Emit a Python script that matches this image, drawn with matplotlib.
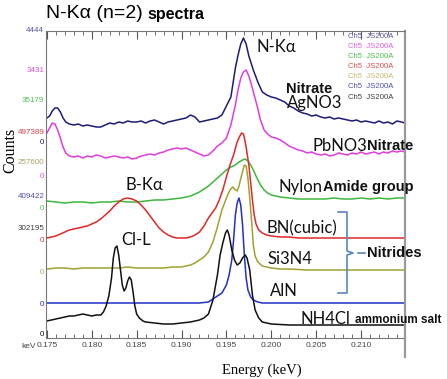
import numpy as np
import matplotlib
matplotlib.use('Agg')
from matplotlib import pyplot as plt

# spectra, counts above each trace's own zero (display units), energy in keV
agno3_e = [0.1750, 0.1753, 0.1756, 0.1759, 0.1762, 0.1765, 0.1768, 0.1771, 0.1775, 0.1780,
           0.1785, 0.1790, 0.1795, 0.1800, 0.1805, 0.1810, 0.1815, 0.1820, 0.1825, 0.1830,
           0.1835, 0.1840, 0.1845, 0.1850, 0.1855, 0.1860, 0.1865, 0.1870, 0.1875, 0.1880,
           0.1885, 0.1890, 0.1895, 0.1900, 0.1905, 0.1910, 0.1915, 0.1920, 0.1925, 0.1930,
           0.1935, 0.1940, 0.1945, 0.1950, 0.1955, 0.1960, 0.1963, 0.1966, 0.1969, 0.1972,
           0.1975, 0.1980, 0.1985, 0.1990, 0.1995, 0.2000, 0.2005, 0.2010, 0.2015, 0.2020,
           0.2025, 0.2030, 0.2035, 0.2040, 0.2045, 0.2050, 0.2055, 0.2060, 0.2065, 0.2070,
           0.2075, 0.2080, 0.2085, 0.2090, 0.2095, 0.2100, 0.2105, 0.2110, 0.2115, 0.2120,
           0.2125, 0.2130, 0.2135, 0.2140, 0.2145, 0.2149]
agno3_c = [25, 27, 32, 35, 35, 31, 25, 21, 19, 18,
           19, 17, 18, 17, 16, 16, 18, 20, 19, 21,
           20, 22, 21, 21, 22, 20, 22, 23, 21, 19,
           21, 22, 23, 24, 25, 28, 26, 21, 22, 23,
           24, 25, 28, 37, 46, 75, 88, 99, 105, 99,
           87, 73, 61, 51, 48, 46, 45, 43, 41, 37,
           35, 32, 30, 29, 27, 28, 26, 25, 26, 24,
           25, 24, 23, 22, 23, 21, 22, 21, 20, 22,
           20, 21, 19, 22, 21, 20]

pbno3_e = [0.1750, 0.1753, 0.1756, 0.1759, 0.1762, 0.1765, 0.1768, 0.1771, 0.1775, 0.1780,
           0.1785, 0.1790, 0.1795, 0.1800, 0.1805, 0.1810, 0.1815, 0.1820, 0.1825, 0.1830,
           0.1835, 0.1840, 0.1845, 0.1850, 0.1855, 0.1860, 0.1865, 0.1870, 0.1875, 0.1880,
           0.1885, 0.1890, 0.1895, 0.1900, 0.1905, 0.1910, 0.1915, 0.1920, 0.1925, 0.1930,
           0.1935, 0.1940, 0.1945, 0.1950, 0.1955, 0.1960, 0.1963, 0.1966, 0.1969, 0.1972,
           0.1975, 0.1978, 0.1981, 0.1984, 0.1988, 0.1992, 0.1996, 0.2000, 0.2005, 0.2010,
           0.2015, 0.2020, 0.2025, 0.2030, 0.2035, 0.2040, 0.2045, 0.2050, 0.2055, 0.2060,
           0.2065, 0.2070, 0.2075, 0.2080, 0.2085, 0.2090, 0.2095, 0.2100, 0.2105, 0.2110,
           0.2115, 0.2120, 0.2125, 0.2130, 0.2135, 0.2140, 0.2145, 0.2149]
pbno3_c = [44, 49, 54, 53, 47, 39, 30, 24, 21, 20,
           21, 19, 21, 20, 22, 21, 19, 20, 21, 20,
           19, 20, 18, 19, 21, 22, 23, 22, 24, 25,
           27, 28, 29, 28, 29, 27, 25, 23, 21, 22,
           26, 31, 34, 39, 52, 72, 87, 99, 105, 107,
           101, 92, 82, 72, 57, 47, 43, 40, 39, 37,
           34, 31, 29, 27, 26, 24, 25, 23, 22, 23,
           21, 22, 24, 23, 22, 24, 23, 25, 23, 24,
           25, 23, 25, 24, 26, 25, 26, 25]

nylon_e = [0.1750, 0.1760, 0.1770, 0.1780, 0.1790, 0.1800, 0.1810, 0.1820, 0.1830, 0.1840,
           0.1850, 0.1860, 0.1870, 0.1880, 0.1890, 0.1900, 0.1905, 0.1910, 0.1915, 0.1920,
           0.1925, 0.1930, 0.1935, 0.1940, 0.1945, 0.1950, 0.1955, 0.1960, 0.1964, 0.1968,
           0.1971, 0.1974, 0.1977, 0.1980, 0.1984, 0.1988, 0.1992, 0.1996, 0.2000, 0.2005,
           0.2010, 0.2020, 0.2030, 0.2040, 0.2050, 0.2060, 0.2070, 0.2080, 0.2090, 0.2100,
           0.2110, 0.2120, 0.2130, 0.2140, 0.2149]
nylon_c = [7, 6, 5, 6, 6, 5, 6, 6, 7, 6,
           6, 7, 8, 8, 9, 10, 11, 12, 14, 16,
           19, 22, 26, 30, 34, 38, 41, 43, 46, 48,
           49, 47, 43, 38, 30, 23, 18, 15, 13, 12,
           11, 10, 9, 9, 9, 9, 10, 9, 9, 10,
           9, 10, 9, 10, 10]

bn_e = [0.1750, 0.1755, 0.1760, 0.1765, 0.1770, 0.1775, 0.1780, 0.1785, 0.1790, 0.1795,
        0.1800, 0.1805, 0.1810, 0.1815, 0.1820, 0.1825, 0.1830, 0.1835, 0.1840, 0.1845,
        0.1850, 0.1855, 0.1860, 0.1865, 0.1870, 0.1875, 0.1880, 0.1885, 0.1890, 0.1895,
        0.1900, 0.1905, 0.1910, 0.1915, 0.1920, 0.1925, 0.1930, 0.1934, 0.1938, 0.1942,
        0.1946, 0.1950, 0.1954, 0.1958, 0.1962, 0.1965, 0.1967, 0.1969, 0.1971, 0.1973,
        0.1975, 0.1977, 0.1979, 0.1981, 0.1983, 0.1986, 0.1990, 0.1995, 0.2000, 0.2010,
        0.2020, 0.2030, 0.2040, 0.2060, 0.2080, 0.2100, 0.2120, 0.2140, 0.2149]
bn_c = [2, 3, 4, 6, 8, 10, 11, 12, 13, 14,
        16, 18, 21, 25, 29, 34, 38, 41, 42, 41,
        39, 35, 30, 24, 18, 12, 8, 5, 3, 2,
        2, 2, 3, 5, 8, 14, 22, 27, 32, 40,
        50, 63, 75, 85, 98, 104, 107, 106, 98, 87,
        75, 58, 40, 25, 16, 10, 7, 5, 4, 3,
        3, 2, 2, 2, 2, 2, 2, 2, 2]

si3n4_e = [0.1750, 0.1760, 0.1770, 0.1780, 0.1790, 0.1800, 0.1810, 0.1820, 0.1830, 0.1840,
           0.1850, 0.1860, 0.1870, 0.1880, 0.1890, 0.1900, 0.1905, 0.1910, 0.1915, 0.1920,
           0.1925, 0.1930, 0.1935, 0.1940, 0.1945, 0.1950, 0.1954, 0.1957, 0.1960, 0.1962,
           0.1964, 0.1967, 0.1970, 0.1972, 0.1974, 0.1976, 0.1978, 0.1980, 0.1982, 0.1985,
           0.1990, 0.1995, 0.2000, 0.2010, 0.2020, 0.2040, 0.2060, 0.2080, 0.2100, 0.2120,
           0.2140, 0.2149]
si3n4_c = [3, 4, 4, 3, 4, 4, 4, 4, 4, 5,
           4, 4, 4, 4, 5, 5, 6, 7, 9, 12,
           15, 20, 30, 45, 62, 74, 82, 85, 82, 81,
           86, 97, 107, 106, 94, 74, 52, 27, 16, 10,
           6, 5, 4, 3, 3, 2, 2, 2, 2, 2,
           2, 2]

aln_e = [0.1750, 0.1800, 0.1850, 0.1900, 0.1920, 0.1930, 0.1935, 0.1940, 0.1945, 0.1950,
         0.1953, 0.1956, 0.1958, 0.1960, 0.1962, 0.1964, 0.1966, 0.1968, 0.1970, 0.1972,
         0.1974, 0.1977, 0.1980, 0.1985, 0.1990, 0.2000, 0.2050, 0.2100, 0.2149]
aln_c = [1, 1, 1, 1, 1, 2, 5, 8, 11, 19,
         29, 44, 64, 89, 101, 106, 99, 79, 49, 26,
         14, 7, 4, 2, 1, 1, 1, 1, 1]

nh4cl_e = [0.1750, 0.1755, 0.1760, 0.1765, 0.1770, 0.1775, 0.1780, 0.1785, 0.1790, 0.1795,
           0.1800, 0.1805, 0.1810, 0.1813, 0.1816, 0.1819, 0.1822, 0.1824, 0.1826, 0.1828,
           0.1830, 0.1832, 0.1834, 0.1836, 0.1838, 0.1840, 0.1842, 0.1844, 0.1846, 0.1848,
           0.1850, 0.1853, 0.1857, 0.1860, 0.1870, 0.1880, 0.1890, 0.1900, 0.1910, 0.1920,
           0.1925, 0.1930, 0.1935, 0.1940, 0.1943, 0.1946, 0.1949, 0.1951, 0.1953, 0.1956,
           0.1959, 0.1962, 0.1965, 0.1968, 0.1971, 0.1973, 0.1976, 0.1979, 0.1982, 0.1986,
           0.1990, 0.2000, 0.2020, 0.2040, 0.2060, 0.2080, 0.2100, 0.2120, 0.2140, 0.2149]
nh4cl_c = [14, 15, 16, 17, 18, 19, 19, 20, 21, 20,
           19, 20, 20, 23, 29, 39, 57, 77, 87, 89,
           80, 65, 50, 44, 47, 54, 58, 55, 43, 29,
           21, 17, 14, 13, 12, 11, 11, 12, 13, 15,
           17, 21, 35, 60, 80, 92, 102, 105, 100, 85,
           75, 70, 72, 77, 80, 77, 65, 40, 25, 17,
           13, 11, 10, 10, 10, 10, 10, 10, 10, 10]

spectra = [(agno3_e, agno3_c), (pbno3_e, pbno3_c), (nylon_e, nylon_c), (bn_e, bn_c),
           (si3n4_e, si3n4_c), (aln_e, aln_c), (nh4cl_e, nh4cl_c)]
colors = ['#1c1c78', '#e03ce0', '#3cb83c', '#e02828', '#a3a030', '#2030c8', '#111111']
offsets = [195, 161, 130, 98, 66, 34, 3]

# left scale labels: text, colour, height in display units
scale_labels = ['4444', '3431', '35179', '497389', '0', '257600', '0', '409422', '0', '302195', '0', '0', '0', '0']
scale_colors = ['#5656a8', '#e050d8', '#4cc04c', '#d44040', '#1c1c78', '#a8a460', '#e050d8',
                '#5050b0', '#4cc04c', '#404040', '#d44040', '#a8a460', '#2030c8', '#111111']
scale_pos = [308, 268, 237, 205, 195, 175, 161, 141, 130, 109, 98, 66, 34, 3]

x_ticks = [0.175, 0.180, 0.185, 0.190, 0.195, 0.200, 0.205, 0.210]

W, H = 447, 379
def fx(px):
    return px / W
def fy(py):
    return 1 - py / H

fig = plt.figure(figsize=(W / 100, H / 100), dpi=100)
ax = fig.add_axes([fx(46), fy(338), (405 - 46) / W, (338 - 31) / H])

for (e, c), col, off in zip(spectra, colors, offsets):
    ax.plot(e, np.array(c) + off, color=col, lw=1.1)

small = 'Liberation Sans'
ax.set_xlim(0.1749, 0.2149)
ax.set_ylim(0, 307)
ax.set_xticks(x_ticks)
ax.set_xticklabels([f'{t:.3f}' for t in x_ticks], fontsize=6, color='#444444', family=small)
ax.set_xticks(np.arange(0.175, 0.2145, 0.001), minor=True)
ax.set_yticks([])
ax.tick_params(axis='x', which='both', direction='in', top=True, color='#555555', pad=3)
ax.tick_params(axis='x', which='major', length=6)
ax.tick_params(axis='x', which='minor', length=3)
for s in ['left', 'bottom', 'top']:
    ax.spines[s].set_color('#777777')
ax.spines['right'].set_color('#999999')
ax.spines['right'].set_linewidth(1.6)
# right frame edge runs a little below the axis
fig.add_artist(plt.Line2D([fx(405), fx(405)], [fy(338), fy(357)], color='#999999', lw=1.6))

for lab, col, p in zip(scale_labels, scale_colors, scale_pos):
    ax.text(-0.005, p, lab, transform=ax.get_yaxis_transform(), ha='right', va='center',
            fontsize=5.8, color=col, family=small)

fig.text(fx(21), fy(346), 'keV', fontsize=6, color='#444444', va='center', family=small)

# channel tags
tag_colors = ['#5a5aa6', '#e060e0', '#4cc04c', '#e05050', '#c8b870', '#5050a8', '#404040']
for i, col in enumerate(tag_colors):
    fig.text(fx(348), fy(36 + i * 10.2), 'Ch5  JS200A', fontsize=5.6, color=col, va='center',
             family=small)

# title
fig.text(fx(46), fy(14), 'N-K\u03b1 (n=2)', fontsize=14, va='center', family='Liberation Sans')
fig.text(fx(147), fy(15), 'spectra', fontsize=11.5, va='center', fontweight='bold',
         family='Liberation Sans')

# axis titles
fig.text(fx(10), fy(150), 'Counts', rotation=90, fontsize=11.5, va='center', ha='center',
         family='Liberation Serif')
fig.text(fx(262), fy(370), 'Energy (keV)', fontsize=10.5, va='center', ha='center',
         family='Liberation Serif')

lab = dict(fontsize=12, va='center', family='Lato', color='#111111')
bold = dict(fontsize=10.5, va='center', family='Liberation Sans', fontweight='bold', color='#111111')
fig.text(fx(257), fy(47), 'N-K\u03b1', **lab)
fig.text(fx(286), fy(89), 'Nitrate', **bold)
fig.text(fx(287), fy(103), 'AgNO3', **lab)
fig.text(fx(313), fy(146), 'PbNO3', **lab)
fig.text(fx(367), fy(146), 'Nitrate', **bold)
fig.text(fx(126), fy(185), 'B-K\u03b1', **lab)
fig.text(fx(278), fy(187), 'Nylon', **lab)
fig.text(fx(323), fy(187), 'Amide group', **bold)
fig.text(fx(267), fy(228), 'BN(cubic)', **lab)
fig.text(fx(268), fy(259), 'Si3N4', **lab)
fig.text(fx(270), fy(291), 'AlN', **lab)
fig.text(fx(367), fy(253), 'Nitrides', **bold)
fig.text(fx(121), fy(240), 'Cl-L', **lab)
fig.text(fx(300), fy(319), 'NH4Cl', **lab)
fig.text(fx(355), fy(320), 'ammonium salt', fontsize=8.5, va='center', family='Liberation Sans',
         fontweight='bold', color='#111111')

# brace for nitrides
bx = [338, 347, 347, 353, 347, 347, 338]
by = [212, 212, 251, 253, 255, 293, 293]
fig.add_artist(plt.Line2D([fx(v) for v in bx], [fy(v) for v in by], color='#5a86bf', lw=1.2))
fig.add_artist(plt.Line2D([fx(358), fx(365)], [fy(253), fy(253)], color='#5a86bf', lw=1.2))

fig.savefig('out.png', dpi=100, facecolor='white')
